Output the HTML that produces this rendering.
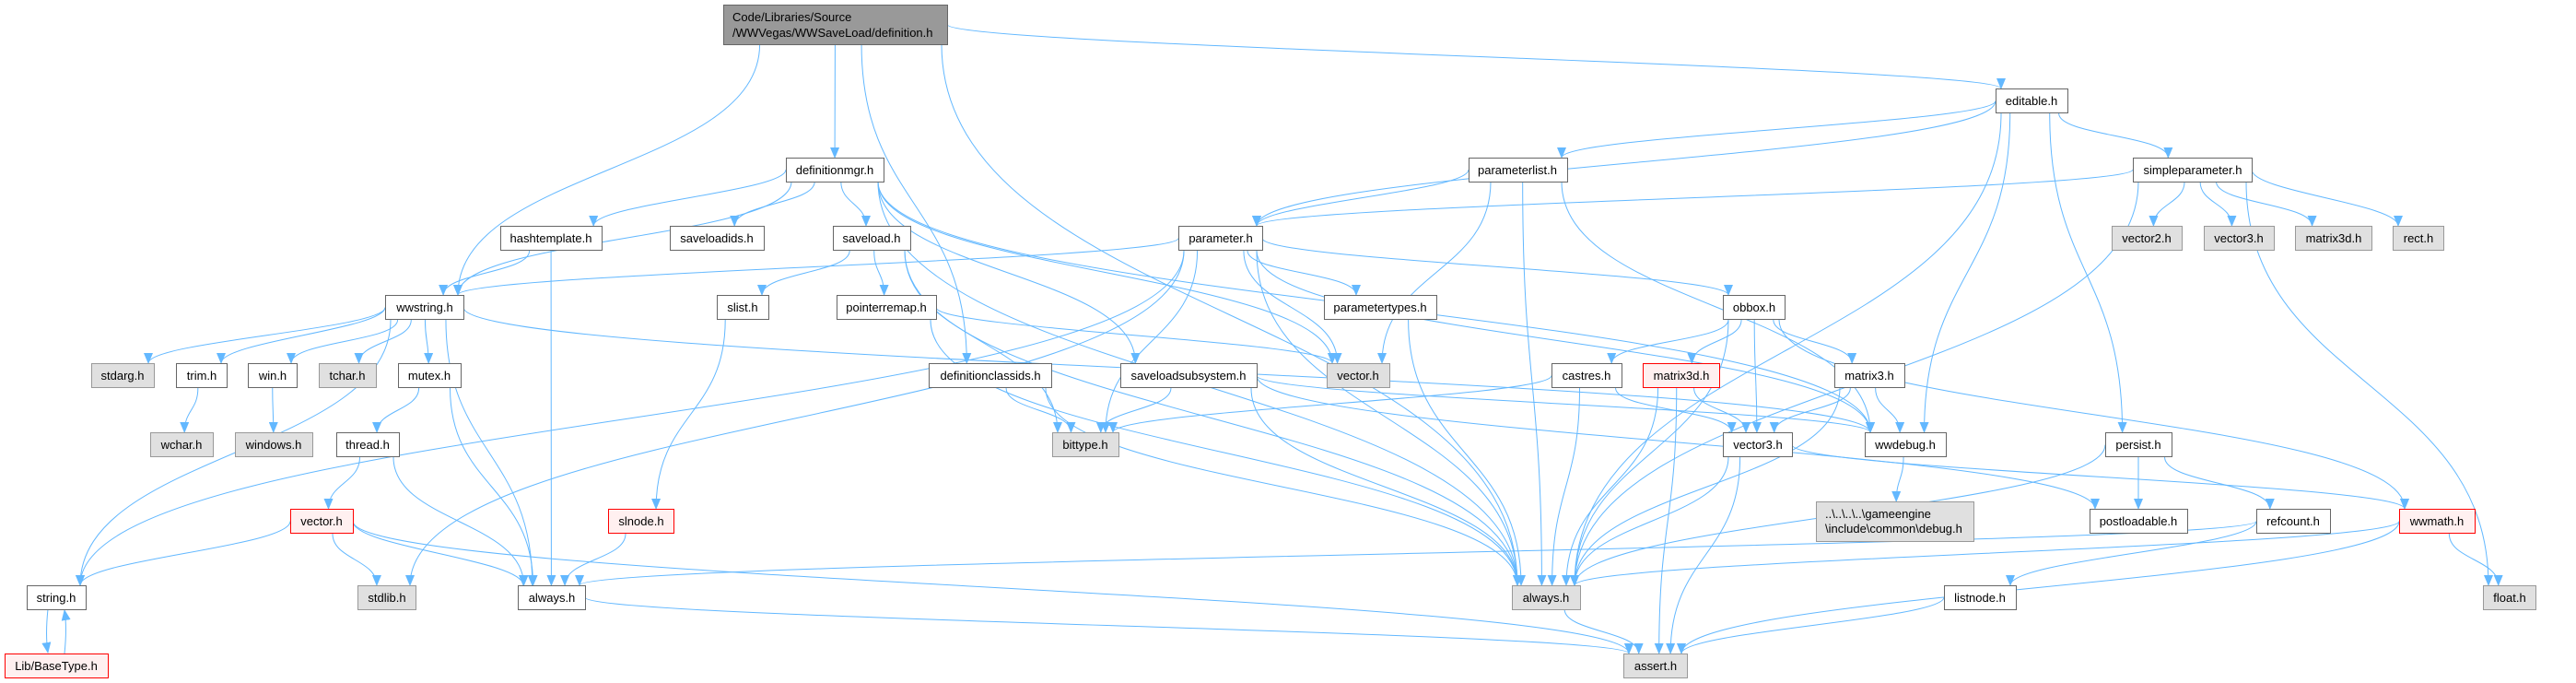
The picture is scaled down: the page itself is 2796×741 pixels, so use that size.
<!DOCTYPE html>
<html><head><meta charset="utf-8"><style>
html,body{margin:0;padding:0;background:#fff}
svg{display:block}
text{font-family:"Liberation Sans",sans-serif;font-size:13px;fill:#000}
.n rect{fill:#fff;stroke:#666;stroke-width:1}
.g rect{fill:#e0e0e0;stroke:#999}
.r rect{fill:#fff0f0;stroke:#f00}
.k rect{fill:#999;stroke:#666}
#edges path{fill:none;stroke:#63b8ff;stroke-width:1}
</style></head><body>
<svg id="s" width="2796" height="741" viewBox="0 0 2796 741" xmlns="http://www.w3.org/2000/svg">
<defs><marker id="a" markerWidth="12" markerHeight="10" refX="11" refY="5" orient="auto" markerUnits="userSpaceOnUse"><path d="M0,0 L12,5 L0,10 z" fill="#63b8ff"/></marker></defs>
<g id="edges"></g>
<g id="nodes" text-anchor="middle">
<g class="k"><rect x="785.5" y="5.5" width="243" height="43"/><text x="795" y="23" text-anchor="start">Code/Libraries/Source</text><text x="795" y="40" text-anchor="start">/WWVegas/WWSaveLoad/definition.h</text></g>
<g class="n"><rect x="853.5" y="171.5" width="106" height="26"/><text x="906" y="189">definitionmgr.h</text></g>
<g class="n"><rect x="2166.5" y="96.5" width="78" height="26"/><text x="2205" y="114">editable.h</text></g>
<g class="n"><rect x="1594.5" y="171.5" width="107" height="26"/><text x="1647" y="189">parameterlist.h</text></g>
<g class="n"><rect x="2315.5" y="171.5" width="129" height="26"/><text x="2380" y="189">simpleparameter.h</text></g>
<g class="n"><rect x="543.5" y="245.5" width="110" height="26"/><text x="598" y="263">hashtemplate.h</text></g>
<g class="n"><rect x="727.5" y="245.5" width="102" height="26"/><text x="778" y="263">saveloadids.h</text></g>
<g class="n"><rect x="904.5" y="245.5" width="84" height="26"/><text x="946" y="263">saveload.h</text></g>
<g class="n"><rect x="1279.5" y="245.5" width="91" height="26"/><text x="1325" y="263">parameter.h</text></g>
<g class="g"><rect x="2292.5" y="245.5" width="76" height="26"/><text x="2330" y="263">vector2.h</text></g>
<g class="g"><rect x="2392.5" y="245.5" width="76" height="26"/><text x="2430" y="263">vector3.h</text></g>
<g class="g"><rect x="2491.5" y="245.5" width="83" height="26"/><text x="2533" y="263">matrix3d.h</text></g>
<g class="g"><rect x="2597.5" y="245.5" width="55" height="26"/><text x="2625" y="263">rect.h</text></g>
<g class="n"><rect x="418.5" y="320.5" width="85" height="26"/><text x="461" y="338">wwstring.h</text></g>
<g class="n"><rect x="778.5" y="320.5" width="56" height="26"/><text x="806" y="338">slist.h</text></g>
<g class="n"><rect x="908.5" y="320.5" width="108" height="26"/><text x="962" y="338">pointerremap.h</text></g>
<g class="n"><rect x="1437.5" y="320.5" width="122" height="26"/><text x="1498" y="338">parametertypes.h</text></g>
<g class="n"><rect x="1870.5" y="320.5" width="67" height="26"/><text x="1904" y="338">obbox.h</text></g>
<g class="g"><rect x="99.5" y="394.5" width="68" height="26"/><text x="133" y="412">stdarg.h</text></g>
<g class="n"><rect x="191.5" y="394.5" width="55" height="26"/><text x="219" y="412">trim.h</text></g>
<g class="n"><rect x="269.5" y="394.5" width="53" height="26"/><text x="296" y="412">win.h</text></g>
<g class="g"><rect x="346.5" y="394.5" width="62" height="26"/><text x="377" y="412">tchar.h</text></g>
<g class="n"><rect x="432.5" y="394.5" width="68" height="26"/><text x="466" y="412">mutex.h</text></g>
<g class="n"><rect x="1008.5" y="394.5" width="133" height="26"/><text x="1075" y="412">definitionclassids.h</text></g>
<g class="n"><rect x="1216.5" y="394.5" width="148" height="26"/><text x="1290" y="412">saveloadsubsystem.h</text></g>
<g class="g"><rect x="1440.5" y="394.5" width="68" height="26"/><text x="1474" y="412">vector.h</text></g>
<g class="n"><rect x="1684.5" y="394.5" width="76" height="26"/><text x="1722" y="412">castres.h</text></g>
<g class="r"><rect x="1783.5" y="394.5" width="83" height="26"/><text x="1825" y="412">matrix3d.h</text></g>
<g class="n"><rect x="1991.5" y="394.5" width="76" height="26"/><text x="2029" y="412">matrix3.h</text></g>
<g class="g"><rect x="163.5" y="469.5" width="68" height="26"/><text x="197" y="487">wchar.h</text></g>
<g class="g"><rect x="255.5" y="469.5" width="84" height="26"/><text x="297" y="487">windows.h</text></g>
<g class="n"><rect x="365.5" y="469.5" width="68" height="26"/><text x="399" y="487">thread.h</text></g>
<g class="g"><rect x="1142.5" y="469.5" width="72" height="26"/><text x="1178" y="487">bittype.h</text></g>
<g class="n"><rect x="1870.5" y="469.5" width="75" height="26"/><text x="1908" y="487">vector3.h</text></g>
<g class="n"><rect x="2024.5" y="469.5" width="88" height="26"/><text x="2068" y="487">wwdebug.h</text></g>
<g class="n"><rect x="2285.5" y="469.5" width="72" height="26"/><text x="2321" y="487">persist.h</text></g>
<g class="r"><rect x="315.5" y="552.5" width="68" height="26"/><text x="349" y="570">vector.h</text></g>
<g class="r"><rect x="660.5" y="552.5" width="71" height="26"/><text x="696" y="570">slnode.h</text></g>
<g class="g"><rect x="1971.5" y="544.5" width="171" height="43"/><text x="1981" y="562" text-anchor="start">..\..\..\..\gameengine</text><text x="1981" y="578" text-anchor="start">\include\common\debug.h</text></g>
<g class="n"><rect x="2268.5" y="552.5" width="106" height="26"/><text x="2321" y="570">postloadable.h</text></g>
<g class="n"><rect x="2449.5" y="552.5" width="80" height="26"/><text x="2489" y="570">refcount.h</text></g>
<g class="r"><rect x="2604.5" y="552.5" width="82" height="26"/><text x="2645" y="570">wwmath.h</text></g>
<g class="n"><rect x="29.5" y="635.5" width="64" height="26"/><text x="61" y="653">string.h</text></g>
<g class="g"><rect x="388.5" y="635.5" width="63" height="26"/><text x="420" y="653">stdlib.h</text></g>
<g class="n"><rect x="562.5" y="635.5" width="73" height="26"/><text x="599" y="653">always.h</text></g>
<g class="g"><rect x="1641.5" y="635.5" width="74" height="26"/><text x="1678" y="653">always.h</text></g>
<g class="n"><rect x="2110.5" y="635.5" width="78" height="26"/><text x="2149" y="653">listnode.h</text></g>
<g class="g"><rect x="2695.5" y="635.5" width="57" height="26"/><text x="2724" y="653">float.h</text></g>
<g class="r"><rect x="5.5" y="709.5" width="112" height="26"/><text x="61" y="727">Lib/BaseType.h</text></g>
<g class="g"><rect x="1762.5" y="709.5" width="69" height="26"/><text x="1797" y="727">assert.h</text></g>
</g>
</svg>
<script>
var N={root:[785,5,1028,48],defmgr:[853,171,959,197],editable:[2166,96,2244,123],paramlist:[1594,171,1701,197],simple:[2315,171,2444,197],hash:[543,245,653,272],slids:[727,245,829,272],saveload:[904,245,988,272],param:[1279,245,1370,272],v2:[2292,245,2368,272],v3g:[2392,245,2468,272],m3dg:[2491,245,2574,272],rect:[2597,245,2652,272],wws:[418,320,503,347],slist:[778,320,834,347],premap:[908,320,1016,347],ptypes:[1437,320,1559,347],obbox:[1870,320,1937,347],stdarg:[99,394,167,421],trim:[191,394,246,421],win:[269,394,322,421],tchar:[346,394,408,421],mutex:[432,394,500,421],dcids:[1008,394,1141,421],sls:[1216,394,1364,421],vech:[1440,394,1508,421],castres:[1684,394,1760,421],m3d:[1783,394,1866,421],m3:[1991,394,2067,421],wchar:[163,469,231,496],windows:[255,469,339,496],thread:[365,469,433,496],bittype:[1142,469,1214,496],v3:[1870,469,1945,496],wwdebug:[2024,469,2112,496],persist:[2285,469,2357,496],vred:[315,552,383,579],slnode:[660,552,731,579],ge:[1971,544,2142,587],postl:[2268,552,2374,579],refc:[2449,552,2529,579],wwmath:[2604,552,2686,579],string:[29,635,93,661],stdlib:[388,635,451,661],alw:[562,635,635,661],alg:[1641,635,1715,661],listnode:[2110,635,2188,661],float:[2695,635,2752,661],base:[5,709,117,736],assert:[1762,709,1831,736]};
var E=[["root","defmgr"],["root","wws"],["root","alg"],["root","dcids"],["root","editable"],
["wws","stdarg"],["wws","trim"],["wws","win"],["wws","tchar"],["wws","mutex"],["wws","string"],["wws","alw"],["wws","wwdebug"],
["trim","wchar"],["win","windows"],["mutex","thread"],["mutex","alw"],["thread","vred"],["thread","alw"],["vred","string"],["vred","stdlib"],["vred","alw"],["vred","assert"],["string","base"],["base","string"],
["hash","alw"],["hash","wws"],["defmgr","hash"],["defmgr","slids"],["defmgr","saveload"],["defmgr","wws"],["defmgr","alg"],["defmgr","vech"],["defmgr","sls"],["defmgr","wwdebug"],
["saveload","slist"],["saveload","premap"],["saveload","alg"],["saveload","bittype"],["slist","slnode"],["slnode","alw"],["premap","alg"],["premap","vech"],
["dcids","bittype"],["dcids","alg"],["sls","bittype"],["sls","alg"],["sls","postl"],["sls","wwdebug"],
["param","wws"],["param","string"],["param","stdlib"],["param","bittype"],["param","vech"],["param","ptypes"],["param","obbox"],["param","alg"],["param","wwdebug"],["ptypes","alg"],
["paramlist","param"],["paramlist","vech"],["paramlist","alg"],["paramlist","wwdebug"],
["editable","param"],["editable","paramlist"],["editable","simple"],["editable","wwdebug"],["editable","persist"],["editable","alg"],
["simple","param"],["simple","v2"],["simple","v3g"],["simple","m3dg"],["simple","rect"],["simple","float"],["simple","alg"],
["obbox","castres"],["obbox","m3d"],["obbox","v3"],["obbox","m3"],["obbox","wwmath"],["obbox","alg"],
["castres","bittype"],["castres","v3"],["castres","alg"],["m3d","v3"],["m3d","alg"],["m3d","assert"],["m3","v3"],["m3","wwdebug"],["m3","alg"],
["v3","alg"],["v3","wwmath"],["v3","assert"],["wwdebug","ge"],["persist","postl"],["persist","refc"],["persist","alg"],["refc","listnode"],["refc","alw"],
["wwmath","alg"],["wwmath","float"],["wwmath","assert"],["listnode","assert"],["alw","assert"],["alg","assert"]];
var g=document.getElementById("edges"),h="";
function cx(n){return (n[0]+n[2])/2}
E.forEach(function(e){var s=N[e[0]],t=N[e[1]],d;
 var sx,sy,tx,ty;
 if(e[0]=="base"){d="M70,709 C72,690 72,675 70,662";}
 else if(e[0]=="string"&&e[1]=="base"){d="M52,661 C50,680 50,695 52,708";}
 else if(t[1]>s[3]-2){
  tx=cx(t)+Math.max(-(t[2]-t[0])/2+6,Math.min((t[2]-t[0])/2-6,(cx(s)-cx(t))*0.15));ty=t[1];
  var hw=(s[2]-s[0])/2-6;sx=cx(s)+Math.max(-hw,Math.min(hw,(tx-cx(s))*0.2));sy=s[3];
  var dy=(ty-sy)*0.5;
  if(Math.abs(tx-sx)>3*(ty-sy)&&ty-sy<150){ // mostly horizontal: use sides
   if(tx>sx){sx=s[2];sy=(s[1]+s[3])/2;}else{sx=s[0];sy=(s[1]+s[3])/2;}
   if(t[1]-s[3]<10){ty=(t[1]+t[3])/2;tx=tx>sx?t[0]:t[2];}
  }
  d="M"+sx+","+sy+" C"+sx+","+(sy+dy)+" "+tx+","+(ty-dy)+" "+tx+","+ty;
 } else {
  sy=(s[1]+s[3])/2;ty=(t[1]+t[3])/2;
  if(cx(t)>cx(s)){sx=s[2];tx=t[0];}else{sx=s[0];tx=t[2];}
  var dx=(tx-sx)*0.4;
  d="M"+sx+","+sy+" C"+(sx+dx)+","+sy+" "+(tx-dx)+","+ty+" "+tx+","+ty;
 }
 h+='<path d="'+d+'" marker-end="url(#a)"/>';
});
g.innerHTML=h;
</script>
</body></html>
